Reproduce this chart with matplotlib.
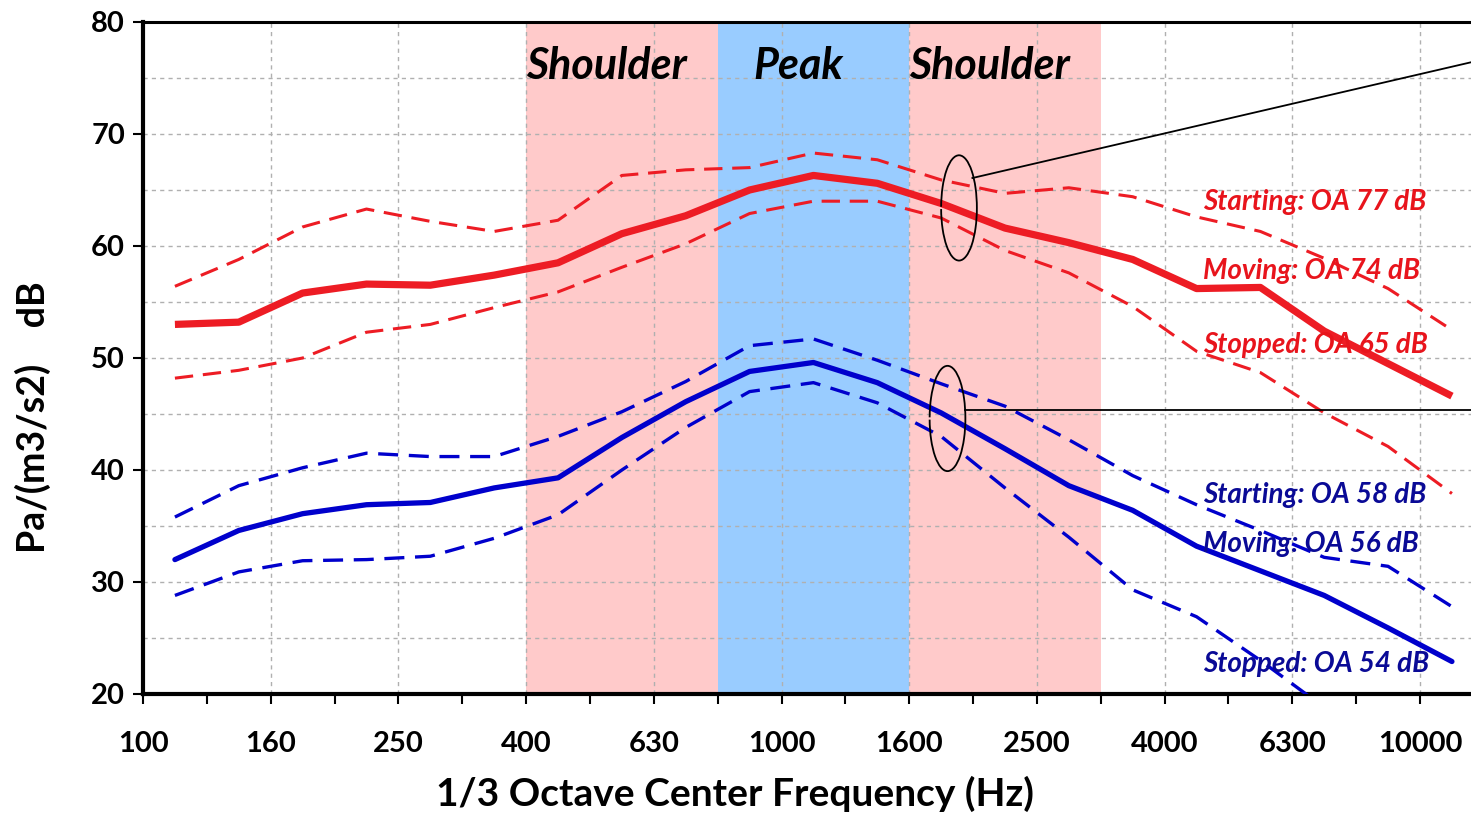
import matplotlib.pyplot as plt
from matplotlib.patches import Arc
import numpy as np

plt.rcParams['font.family'] = ['Lato', 'DejaVu Sans']

# 1/3 octave band edges used as tick labels
bands = ['100', '125', '160', '200', '250', '315', '400', '500', '630', '800',
         '1000', '1250', '1600', '2000', '2500', '3150', '4000', '5000',
         '6300', '8000', '10000']

# red group (upper)
red_start = [56.4, 58.8, 61.7, 63.3, 62.2, 61.3, 62.3, 66.3, 66.8, 67.0, 68.3,
             67.7, 65.9, 64.7, 65.2, 64.4, 62.6, 61.3, 58.9, 56.2, 52.5]
red_move = [53.0, 53.2, 55.8, 56.6, 56.5, 57.4, 58.5, 61.1, 62.7, 65.0, 66.3,
            65.6, 63.8, 61.6, 60.3, 58.8, 56.2, 56.3, 52.4, 49.5, 46.6]
red_stop = [48.2, 48.9, 50.0, 52.3, 53.0, 54.5, 55.9, 58.1, 60.2, 62.9, 64.0,
            64.0, 62.5, 59.6, 57.6, 54.6, 50.6, 48.7, 45.1, 42.1, 37.9]

# blue group (lower)
blue_start = [35.8, 38.6, 40.2, 41.5, 41.2, 41.2, 43.0, 45.2, 47.9, 51.1, 51.7,
              49.8, 47.7, 45.7, 42.7, 39.5, 36.9, 34.6, 32.2, 31.4, 27.8]
blue_move = [32.0, 34.6, 36.1, 36.9, 37.1, 38.4, 39.3, 42.9, 46.1, 48.8, 49.6,
             47.8, 45.1, 41.9, 38.6, 36.4, 33.2, 31.0, 28.8, 25.9, 22.9]
blue_stop = [28.8, 30.9, 31.9, 32.0, 32.3, 33.9, 36.0, 40.0, 43.8, 47.0, 47.8,
             46.0, 43.0, 38.4, 34.0, 29.3, 26.9, 23.0, 18.8, np.nan, np.nan]

regions = [('400', '800', 'Shoulder', '#FFCACA'),
           ('800', '1600', 'Peak', '#99CCFF'),
           ('1600', '3150', 'Shoulder', '#FFCACA')]

RED = '#ED1C24'
BLUE = '#0000CC'
RED_TXT = '#E8141C'
BLUE_TXT = '#0A0A96'

fig = plt.figure(figsize=(14.71, 8.14), dpi=100)
ax = fig.add_axes([143 / 1471, 120 / 814, 21 * 63.85 / 1471, 672 / 814])

x = np.arange(len(red_move)) + 0.5

for lo, hi, name, col in regions:
    i0 = bands.index(lo)
    i1 = bands.index(hi)
    ax.axvspan(i0, i1, color=col, zorder=0.1, lw=0)
    ax.text((i0 + i1) / 2 - 0.24, 76.1, name, ha='center', va='center',
            fontsize=31, fontweight='bold', style='italic', color='black')

dash = (6, 3.2)
ax.plot(x, red_start, color=RED, lw=2.2, dashes=dash, zorder=3)
ax.plot(x, red_move, color=RED, lw=5.2, solid_capstyle='butt', zorder=3)
ax.plot(x, red_stop, color=RED, lw=2.2, dashes=dash, zorder=3)
ax.plot(x, blue_start, color=BLUE, lw=2.4, dashes=dash, zorder=3)
ax.plot(x, blue_move, color=BLUE, lw=3.8, solid_capstyle='round', zorder=3)
ax.plot(x, blue_stop, color=BLUE, lw=2.4, dashes=dash, zorder=3)

# series labels
lx = 16.6
for y, t in [(63.9, 'Starting: OA 77 dB'), (57.8, 'Moving: OA 74 dB'),
             (51.2, 'Stopped: OA 65 dB')]:
    ax.text(lx, y, t, color=RED_TXT, fontsize=20, fontweight='bold',
            style='italic', va='center', ha='left', zorder=4)
for y, t in [(37.8, 'Starting: OA 58 dB'), (33.4, 'Moving: OA 56 dB'),
             (22.7, 'Stopped: OA 54 dB')]:
    ax.text(lx, y, t, color=BLUE_TXT, fontsize=20, fontweight='bold',
            style='italic', va='center', ha='left', zorder=4)

# callout ellipses and pointers
ax.add_patch(Arc((12.78, 63.4), 0.56, 9.4, theta1=200, theta2=160,
                 color='black', lw=1.3, zorder=5))
ax.plot([12.99, 21.0], [66.07, 76.67], color='black', lw=1.3, zorder=5)
ax.add_patch(Arc((12.6, 44.6), 0.56, 9.4, theta1=200, theta2=160,
                 color='black', lw=1.3, zorder=5))
ax.plot([12.87, 21.0], [45.36, 45.36], color='black', lw=1.3, zorder=5)

ax.set_xlim(0, 21)
ax.set_ylim(20, 80)

ax.set_xticks(np.arange(0, 21, 2))
ax.set_xticklabels(bands[::2])
ax.set_xticks(np.arange(1, 22, 2), minor=True)
ax.set_yticks(np.arange(20, 81, 10))
ax.set_yticks(np.arange(25, 80, 10), minor=True)

ax.tick_params(axis='both', which='major', direction='out', length=7,
               width=1.5, labelsize=21, pad=6)
ax.tick_params(axis='x', which='minor', direction='out', length=7, width=1.5)
ax.tick_params(axis='y', which='minor', length=0)
for lab in ax.get_xticklabels() + ax.get_yticklabels():
    lab.set_fontweight('bold')
ax.tick_params(axis='x', pad=20)

ax.set_axisbelow(True)
ax.grid(True, which='major', axis='x', color='#b0b0b0', ls=(0, (3, 3)), lw=1)
ax.grid(True, which='both', axis='y', color='#b0b0b0', ls=(0, (3, 3)), lw=1)

for s in ['left', 'bottom']:
    ax.spines[s].set_linewidth(3)
ax.spines['top'].set_linewidth(2.2)
ax.spines['right'].set_visible(False)

ax.set_xlabel('1/3 Octave Center Frequency (Hz)', fontsize=28,
              fontweight='bold')
ax.set_ylabel('Pa/(m3/s2)    dB', fontsize=27, fontweight='bold')
ax.xaxis.set_label_coords(592 / 1341, -82 / 672)
ax.yaxis.set_label_coords(-92 / 1341, (694 - 417) / 672)

plt.savefig('out.png', dpi=100)
